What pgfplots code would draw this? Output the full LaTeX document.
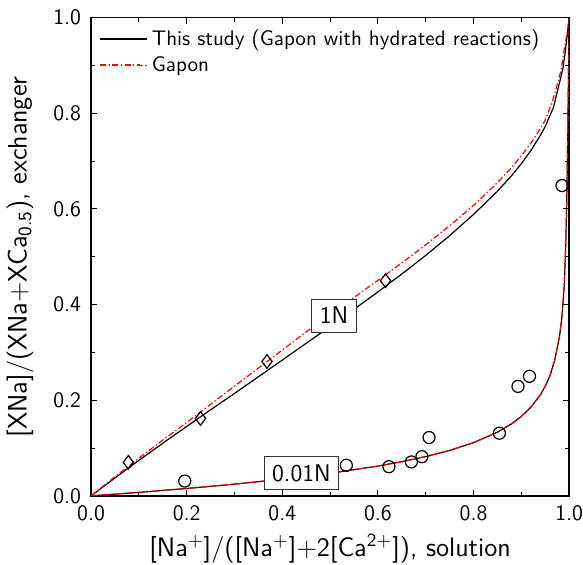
\documentclass[border=0pt]{standalone}
\usepackage{pgfplots}
\pgfplotsset{compat=1.18}
\renewcommand{\familydefault}{\sfdefault}

% 1N, Gapon with hydrated reactions
\pgfplotstableread{
x y
0 0
0.05 0.0375
0.1 0.0742
0.15 0.1100
0.2 0.1452
0.25 0.1799
0.3 0.2142
0.35 0.2491
0.4 0.2840
0.45 0.3190
0.5 0.3543
0.55 0.3901
0.6 0.4266
0.65 0.4640
0.7 0.5030
0.75 0.5442
0.8 0.5887
0.85 0.6372
0.88 0.6702
0.9 0.6948
0.92 0.7224
0.94 0.7543
0.95 0.7727
0.967 0.812
0.98 0.865
0.987 0.895
0.992 0.930
0.995 0.955
0.998 0.982
1.0 1.0
}\studyone

% 1N, Gapon
\pgfplotstableread{
x y
0 0
0.05 0.0399
0.1 0.0787
0.15 0.1165
0.2 0.1533
0.25 0.1914
0.3 0.2294
0.35 0.2672
0.4 0.3050
0.45 0.3429
0.5 0.3795
0.55 0.4149
0.6 0.4507
0.65 0.4873
0.7 0.5250
0.75 0.5648
0.8 0.6075
0.85 0.6550
0.88 0.6872
0.9 0.7112
0.92 0.7378
0.94 0.7685
0.95 0.7861
0.965 0.825
0.975 0.860
0.983 0.890
0.99 0.935
0.995 0.965
0.998 0.985
1.0 1.0
}\gaponone

% 0.01N (both models nearly identical)
\pgfplotstableread{
x y
0 0
0.05 0.0036
0.1 0.0073
0.2 0.0154
0.3 0.0245
0.4 0.0349
0.5 0.0472
0.6 0.0623
0.65 0.0714
0.7 0.0821
0.75 0.0950
0.8 0.1113
0.85 0.1332
0.88 0.1510
0.9 0.1661
0.92 0.1855
0.94 0.2118
0.95 0.2292
0.96 0.2515
0.97 0.285
0.98 0.335
0.985 0.375
0.99 0.445
0.993 0.530
0.995 0.620
0.997 0.750
0.999 0.910
1.0 1.0
}\curvelow

\begin{document}
\begin{tikzpicture}
\begin{axis}[
  scale only axis,
  width=238pt, height=238pt,
  xmin=0, xmax=1, ymin=0, ymax=1,
  xtick={0,0.2,...,1}, ytick={0,0.2,...,1},
  minor tick num=1,
  tick align=inside,
  major tick length=3pt, minor tick length=2pt,
  tick style={black, line width=0.5pt},
  axis line style={line width=0.7pt},
  ticklabel style={font=\fontsize{11}{13}\selectfont,
    /pgf/number format/assume math mode=true,
    /pgf/number format/fixed, /pgf/number format/fixed zerofill,
    /pgf/number format/precision=1},
  xticklabel style={yshift=-1.5pt, inner xsep=0pt},
  yticklabel style={xshift=-1.5pt, inner ysep=5pt},
  label style={font=\fontsize{13.3}{16}\selectfont},
  xlabel={[Na\textsuperscript{+}]/([Na\textsuperscript{+}]+2[Ca\textsuperscript{2+}]), solution},
  ylabel={[XNa]/(XNa+XCa\textsubscript{0.5}), exchanger},
  xlabel style={yshift=-2pt, inner ysep=0.5pt},
  ylabel style={yshift=3pt},
  legend style={draw=none, fill=none, at={(0.004,0.993)}, anchor=north west,
    font=\fontsize{10.5}{12.5}\selectfont, row sep=0pt},
  legend cell align=left,
  legend image code/.code={\path (0pt,0pt) -- (23.5pt,0pt);
    \draw[#1, line width=0.7pt] (0pt,0.3pt) -- (20pt,0.3pt);},
]
\addplot[black, line width=0.6pt, no marks] table {\studyone};
\addlegendentry{This study (Gapon with hydrated reactions)}
\addplot[red, line width=0.6pt, no marks,
  dash pattern=on 3pt off 1.2pt on 0.7pt off 1.2pt] table {\gaponone};
\addlegendentry{Gapon}
\addplot[black, line width=0.6pt, no marks, forget plot] table {\curvelow};
\addplot[red, line width=0.6pt, no marks, forget plot,
  dash pattern=on 3pt off 1.2pt on 0.7pt off 1.2pt] table {\curvelow};
% measured, 1N
\addplot[only marks, mark=diamond, mark size=3.4pt, black, line width=0.6pt, forget plot]
  coordinates {(0.078,0.070) (0.229,0.162) (0.368,0.281) (0.616,0.450)};
% measured, 0.01N
\addplot[only marks, mark=o, mark size=3pt, black, line width=0.6pt, forget plot]
  coordinates {(0.196,0.031) (0.534,0.064) (0.623,0.061) (0.670,0.071)
    (0.692,0.082) (0.707,0.122) (0.854,0.131) (0.893,0.229) (0.917,0.250) (0.985,0.649)};
\node[draw=black!80, fill=white, inner sep=4pt, font=\fontsize{12}{14}\selectfont]
  at (axis cs:0.508,0.377) {1N};
\node[draw=black!80, fill=white, inner sep=4pt, font=\fontsize{12}{14}\selectfont]
  at (axis cs:0.440,0.048) {0.01N};
\end{axis}
\end{tikzpicture}
\end{document}
